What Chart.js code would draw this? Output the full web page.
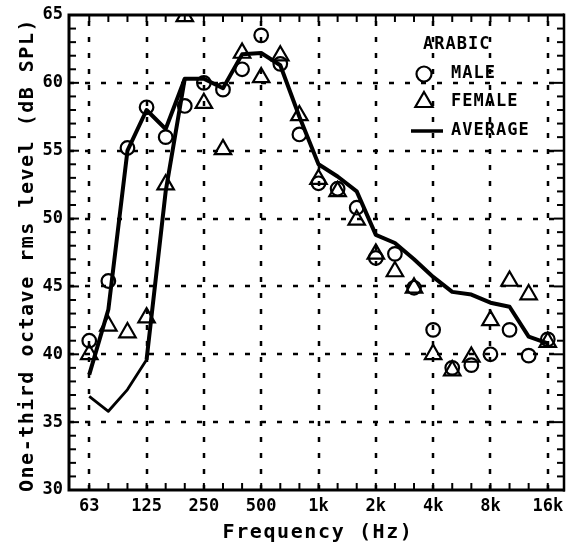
<!DOCTYPE html>
<html>
<head>
<meta charset="utf-8">
<script src="https://cdn.jsdelivr.net/npm/chart.js@4.4.1/dist/chart.umd.min.js"></script>
<style>
  html, body { margin: 0; padding: 0; background: #fff; }
  #c { display: block; }
</style>
</head>
<body>
<canvas id="c" width="568" height="543"></canvas>
<script>
// One-third octave band centre frequencies (index along the x axis)
const bands = ['63','80','100','125','160','200','250','315','400','500','630','800',
               '1k','1.25k','1.6k','2k','2.5k','3.15k','4k','5k','6.3k','8k','10k','12.5k','16k'];
const tickBands = ['63','125','250','500','1k','2k','4k','8k','16k'];
const yTicks = [30, 35, 40, 45, 50, 55, 60, 65];

// Series values (dB SPL)
const male = [41.0, 45.4, 55.2, 58.2, 56.0, 58.3, 60.0, 59.5, 61.0, 63.5, 61.4, 56.2,
              52.6, 52.2, 50.8, 47.1, 47.4, 44.9, 41.8, 39.0, 39.2, 40.0, 41.8, 39.9, 41.1];
const female = [40.0, 42.1, 41.6, 42.7, 52.5, 64.9, 58.5, 55.1, 62.2, 60.4, 62.0, 57.6,
                52.9, 52.0, 49.9, 47.4, 46.1, 44.9, 40.0, 38.8, 39.8, 42.5, 45.4, 44.4, 40.9];
const average = [38.5, 43.3, 55.0, 58.0, 56.6, 60.3, 60.3, 59.6, 62.1, 62.2, 61.3, 57.5,
                 54.0, 53.1, 52.0, 48.8, 48.2, 47.0, 45.7, 44.6, 44.4, 43.8, 43.5, 41.3, 40.8];
// second low-frequency branch of the average curve (63 Hz .. 200 Hz)
const averageLowBranch = [36.9, 35.8, 37.4, 39.6, 52.0, 60.3];

const FONT = 'DejaVu Sans Mono';
const pts = arr => arr.map((v, i) => (v === null ? null : { x: i, y: v }));
const idxOf = b => bands.indexOf(b);

const lowPts = pts(averageLowBranch);

const frame = {
  id: 'frame',
  beforeDatasetsDraw(chart) {
    const { ctx, chartArea: a, scales: { x, y } } = chart;
    ctx.save();
    ctx.strokeStyle = '#000';
    ctx.lineWidth = 2.5;
    ctx.setLineDash([5, 11]);
    tickBands.forEach(b => {
      const px = Math.round(x.getPixelForValue(idxOf(b)));
      ctx.beginPath(); ctx.moveTo(px, a.bottom); ctx.lineTo(px, a.top); ctx.stroke();
    });
    yTicks.filter(v => v > 30 && v < 65).forEach(v => {
      const py = Math.round(y.getPixelForValue(v));
      ctx.beginPath(); ctx.moveTo(a.left, py); ctx.lineTo(a.right, py); ctx.stroke();
    });
    ctx.restore();
  },
  afterDatasetsDraw(chart) {
    const { ctx, chartArea: a, scales: { x, y } } = chart;
    ctx.save();
    ctx.strokeStyle = '#000';
    ctx.fillStyle = '#000';
    ctx.setLineDash([]);
    // inward tick marks
    ctx.lineWidth = 2;
    bands.forEach((b, i) => {
      const px = x.getPixelForValue(i);
      ctx.beginPath(); ctx.moveTo(px, a.bottom); ctx.lineTo(px, a.bottom - 7); ctx.stroke();
      ctx.beginPath(); ctx.moveTo(px, a.top); ctx.lineTo(px, a.top + 7); ctx.stroke();
    });
    for (let v = 31; v < 65; v++) {
      const py = y.getPixelForValue(v);
      const len = v % 5 === 0 ? 10 : 7;
      ctx.beginPath(); ctx.moveTo(a.left, py); ctx.lineTo(a.left + len, py); ctx.stroke();
      ctx.beginPath(); ctx.moveTo(a.right, py); ctx.lineTo(a.right - len, py); ctx.stroke();
    }
    // frame
    ctx.lineWidth = 3;
    ctx.beginPath();
    ctx.moveTo(a.left, a.top); ctx.lineTo(a.right, a.top);
    ctx.moveTo(a.left, a.top - 1.5); ctx.lineTo(a.left, a.bottom + 1.5);
    ctx.moveTo(a.left - 1.5, a.bottom); ctx.lineTo(a.right + 1, a.bottom);
    ctx.stroke();
    ctx.lineWidth = 2.5;
    ctx.beginPath(); ctx.moveTo(a.right, a.top - 1.5); ctx.lineTo(a.right, a.bottom + 1.5); ctx.stroke();

    // legend
    ctx.font = 'bold 17px "' + FONT + '"';
    ctx.letterSpacing = '1px';
    ctx.textBaseline = 'middle';
    ctx.textAlign = 'left';
    ctx.fillText('ARABIC', 423, 45);
    ctx.fillText('MALE', 451, 74);
    ctx.fillText('FEMALE', 451, 102);
    ctx.fillText('AVERAGE', 451, 131);
    ctx.lineWidth = 2.2;
    ctx.beginPath(); ctx.arc(424, 74, 7.5, 0, Math.PI * 2); ctx.stroke();
    const tr = 10, tx = 424, ty = 102;
    ctx.beginPath();
    for (let k = 0; k < 3; k++) {
      const ang = k * 2 * Math.PI / 3;
      const px = tx + Math.sin(ang) * tr, py = ty - Math.cos(ang) * tr;
      k === 0 ? ctx.moveTo(px, py) : ctx.lineTo(px, py);
    }
    ctx.closePath(); ctx.stroke();
    ctx.lineWidth = 3.5;
    ctx.beginPath(); ctx.moveTo(411, 131); ctx.lineTo(443, 131); ctx.stroke();

    // axis titles
    ctx.font = 'bold 20px "' + FONT + '"';
    ctx.letterSpacing = '1.6px';
    ctx.textAlign = 'center';
    ctx.textBaseline = 'alphabetic';
    ctx.fillText('Frequency (Hz)', 318, 538);
    ctx.save();
    ctx.translate(33, 255);
    ctx.rotate(-Math.PI / 2);
    ctx.letterSpacing = '1.5px';
    ctx.fillText('One-third octave rms level (dB SPL)', 0, 0);
    ctx.restore();
    ctx.restore();
  }
};

new Chart(document.getElementById('c'), {
  type: 'scatter',
  data: {
    datasets: [
      {
        label: 'AVERAGE',
        type: 'line',
        data: pts(average),
        borderColor: '#000',
        borderWidth: 4,
        pointRadius: 0,
        tension: 0,
        borderJoinStyle: 'round',
        order: 0
      },
      {
        label: 'AVERAGE (low, thin)',
        type: 'line',
        data: lowPts.slice(0, 4),
        borderColor: '#000',
        borderWidth: 2.8,
        pointRadius: 0,
        tension: 0,
        borderJoinStyle: 'round',
        order: 0
      },
      {
        label: 'AVERAGE (low, thick)',
        type: 'line',
        data: lowPts.slice(3),
        borderColor: '#000',
        borderWidth: 4,
        pointRadius: 0,
        tension: 0,
        borderJoinStyle: 'round',
        order: 0
      },
      {
        label: 'MALE',
        data: pts(male),
        pointStyle: 'circle',
        pointRadius: 6.8,
        borderWidth: 2.2,
        borderColor: '#000',
        backgroundColor: 'rgba(0,0,0,0)',
        order: 1
      },
      {
        label: 'FEMALE',
        data: pts(female),
        pointStyle: 'triangle',
        pointRadius: 9.5,
        borderWidth: 2.2,
        borderColor: '#000',
        backgroundColor: 'rgba(0,0,0,0)',
        order: 1
      }
    ]
  },
  options: {
    responsive: false,
    animation: false,
    devicePixelRatio: 1,
    layout: { autoPadding: false, padding: { left: 0, right: 4, top: 15, bottom: 0 } },
    plugins: { legend: { display: false }, tooltip: { enabled: false } },
    scales: {
      x: {
        type: 'linear',
        min: -1.06,
        max: 24.85,
        grid: { display: false, drawTicks: false },
        border: { display: false },
        afterBuildTicks: s => { s.ticks = tickBands.map(b => ({ value: idxOf(b) })); },
        afterFit: s => { s.height = 53; s.paddingLeft = 0; s.paddingRight = 0; },
        ticks: {
          autoSkip: false,
          maxRotation: 0,
          padding: 6,
          color: '#000',
          font: { family: FONT, size: 17, weight: 'bold' },
          callback: v => bands[v]
        }
      },
      y: {
        min: 30,
        max: 65,
        grid: { display: false, drawTicks: false },
        border: { display: false },
        afterBuildTicks: s => { s.ticks = yTicks.map(v => ({ value: v })); },
        afterFit: s => { s.width = 69; s.paddingTop = 0; s.paddingBottom = 0; },
        ticks: {
          padding: 6,
          color: '#000',
          font: { family: FONT, size: 17, weight: 'bold' }
        }
      }
    }
  },
  plugins: [frame]
});
</script>
</body>
</html>
